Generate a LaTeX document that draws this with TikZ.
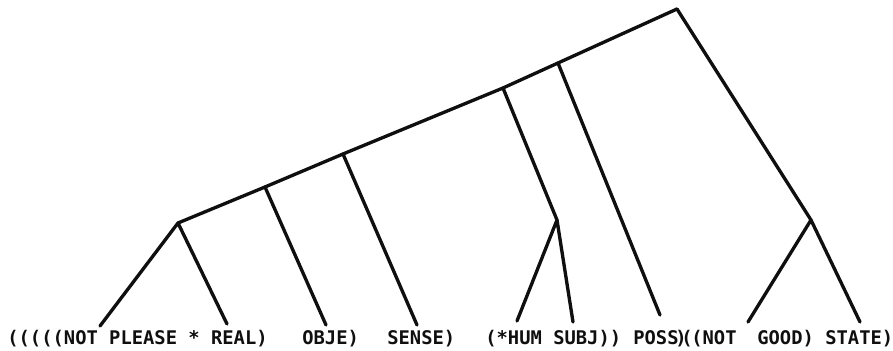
\documentclass[tikz,border=0pt]{standalone}
\usepackage{fontspec}
\newfontfamily\printerfont{DejaVu Sans Mono}
\usetikzlibrary{positioning}
\definecolor{InkBlack}{RGB}{ 15, 15, 15}
\tikzset{
  % Tree branch
  branch/.style={
    draw=InkBlack, line width=1.9pt, line cap=round, line join=round
  },
  % Printed leaf text (line printer output)
  leaftext/.style={
    anchor=base west, inner sep=0pt, text=InkBlack,
    font=\printerfont\bfseries\fontsize{10.7}{12}\selectfont
  }
}
\begin{document}
\begin{tikzpicture}[x=0.02cm, y=-0.02cm]
  \useasboundingbox (0,0) rectangle (893,351);

  % ── INTERNAL POINTS ──────────────────────────────────────────────────────
  \coordinate (root) at (677,9);
  \coordinate (s_poss)  at (558,63);
  \coordinate (s_hum)   at (503,88);
  \coordinate (s_sense) at (343,154);
  \coordinate (s_obje)  at (265,187);
  \coordinate (n_real)  at (178,223);
  \coordinate (n_subj)  at (557,220);
  \coordinate (n_state) at (811,220);

  % ── LEAF ENDS ────────────────────────────────────────────────────────────
  \coordinate (l_not)   at (100,326);
  \coordinate (l_real)  at (227,324);
  \coordinate (l_obje)  at (326,325);
  \coordinate (l_sense) at (417,325);
  \coordinate (l_hum)   at (517,321);
  \coordinate (l_subj)  at (573,322);
  \coordinate (l_poss)  at (660,315);
  \coordinate (l_good)  at (748,322);
  \coordinate (l_state) at (860,322);

  % ── SPINE ────────────────────────────────────────────────────────────────
  \draw[branch] (n_real) -- (s_obje) -- (s_sense) -- (s_hum) -- (s_poss) -- (root);

  % ── BRANCHES ─────────────────────────────────────────────────────────────
  \draw[branch] (l_not) -- (n_real) -- (l_real);
  \draw[branch] (s_obje) -- (l_obje);
  \draw[branch] (s_sense) -- (l_sense);
  \draw[branch] (s_hum) -- (n_subj);
  \draw[branch] (l_hum) -- (n_subj) -- (l_subj);
  \draw[branch] (s_poss) -- (l_poss);
  \draw[branch] (root) -- (n_state);
  \draw[branch] (l_good) -- (n_state) -- (l_state);

  % ── PRINTED LIST ─────────────────────────────────────────────────────────
  \node[leaftext] (t_real)  at (7,345)   {(((((NOT PLEASE * REAL)};
  \node[leaftext] (t_obje)  at (302,345) {OBJE)};
  \node[leaftext] (t_sense) at (387,345) {SENSE)};
  \node[leaftext] (t_subj)  at (485,345) {(*HUM SUBJ))};
  \node[leaftext] (t_poss)  at (633,345) {POSS};
  % overprinted ")(" cell
  \node[leaftext] (t_close) at (675,345) {)};
  \node[leaftext] (t_open)  at (681,345) {(};
  \node[leaftext] (t_good)  at (691,345) {(NOT};
  \node[leaftext] (t_goodw) at (757,345) {GOOD)};
  \node[leaftext] (t_state) at (825,345) {STATE)};

\end{tikzpicture}
\end{document}
